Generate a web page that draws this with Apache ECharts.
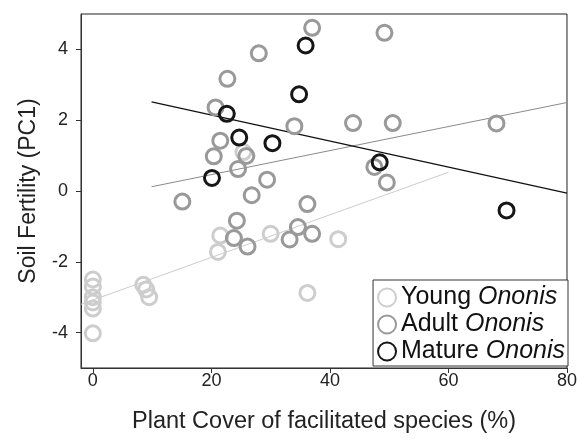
<!DOCTYPE html>
<html>
<head>
<meta charset="utf-8">
<script src="https://cdn.jsdelivr.net/npm/echarts@6/dist/echarts.min.js"></script>
<style>
html,body{margin:0;padding:0;background:#fff;}
#c{width:580px;height:439px;}
</style>
</head>
<body>
<div id="c"></div>
<script>
// ---- data ----
const youngX = [0, 0, 0, 0, 0, 0, 8.5, 9.0, 9.5, 21.1, 21.5, 25.4, 30.0, 36.2, 41.4];
const youngY = [-2.5, -2.7, -3.0, -3.15, -3.32, -4.02, -2.65, -2.78, -3.0, -1.72, -1.26, 1.1, -1.21, -2.88, -1.36];

const adultX = [37.0, 49.2, 28.0, 22.7, 20.7, 34.0, 43.9, 50.6, 68.1, 21.5, 20.4, 25.9, 24.5, 29.4, 26.8, 36.2, 15.1, 47.5, 49.6, 24.3, 23.8, 26.1, 34.6, 33.2, 37.0];
const adultY = [4.61, 4.47, 3.89, 3.17, 2.36, 1.83, 1.92, 1.92, 1.91, 1.42, 0.98, 0.99, 0.62, 0.32, -0.12, -0.37, -0.30, 0.68, 0.24, -0.84, -1.33, -1.57, -1.02, -1.37, -1.21];

const matureX = [22.6, 35.9, 34.8, 24.7, 30.3, 20.1, 48.4, 69.8];
const matureY = [2.18, 4.11, 2.73, 1.51, 1.35, 0.37, 0.81, -0.55];

// fitted lines (end points)
const youngFitX = [-2, 60];
const youngFitY = [-3.2, 0.53];
const adultFitX = [9.9, 80];
const adultFitY = [0.12, 2.50];
const matureFitX = [9.9, 80];
const matureFitY = [2.52, -0.06];

const xTicks = [0, 20, 40, 60, 80];
const yTicks = [-4, -2, 0, 2, 4];

const seriesNames = ['Young', 'Adult', 'Mature'];
const genus = 'Ononis';

// ---- build ----
const zip = (a, b) => a.map((v, i) => [v, b[i]]);
const colors = ['#cdcdcd', '#999999', '#161616'];
const FONT = '"Liberation Sans", Arial, sans-serif';

const scatter = (name, xs, ys, col, z) => ({
  name: name,
  type: 'scatter',
  data: zip(xs, ys),
  symbol: 'circle',
  symbolSize: 15,
  z: z,
  itemStyle: { color: 'rgba(255,255,255,0)', borderColor: col, borderWidth: 3, opacity: 1 },
  emphasis: { disabled: true }
});
const fit = (xs, ys, col, w) => ({
  type: 'line',
  data: zip(xs, ys),
  symbol: 'none',
  silent: true,
  z: 1,
  lineStyle: { color: col, width: w },
  legendHoverLink: false
});

const chart = echarts.init(document.getElementById('c'), null, { renderer: 'canvas' });
chart.setOption({
  animation: false,
  backgroundColor: '#fff',
  textStyle: { fontFamily: FONT },
  grid: {
    left: 81, right: 9, top: 14, bottom: 70,
    show: true, borderColor: '#222', borderWidth: 1, backgroundColor: 'transparent'
  },
  xAxis: {
    type: 'value',
    min: -2, max: 80,
    name: 'Plant Cover of facilitated species (%)',
    nameLocation: 'middle',
    nameGap: 42,
    nameTextStyle: { fontSize: 23.5, color: '#222', fontFamily: FONT },
    axisLine: { show: true, onZero: false, lineStyle: { color: '#333', width: 1 } },
    axisTick: { show: true, inside: false, length: 5, customValues: xTicks, lineStyle: { color: '#333' } },
    axisLabel: { customValues: xTicks, fontSize: 18, color: '#222', margin: 4, fontFamily: FONT },
    splitLine: { show: false }
  },
  yAxis: {
    type: 'value',
    min: -5, max: 5,
    name: 'Soil Fertility (PC1)',
    nameLocation: 'middle',
    nameGap: 41,
    nameRotate: 90,
    nameTextStyle: { fontSize: 23, color: '#222', fontFamily: FONT },
    axisLine: { show: true, onZero: false, lineStyle: { color: '#333', width: 1 } },
    axisTick: { show: true, inside: false, length: 5, customValues: yTicks, lineStyle: { color: '#333' } },
    axisLabel: { customValues: yTicks, fontSize: 18, color: '#222', margin: 13, fontFamily: FONT },
    splitLine: { show: false }
  },
  legend: {
    orient: 'vertical',
    right: 12,
    bottom: 73,
    backgroundColor: '#fff',
    borderColor: '#333',
    borderWidth: 1,
    borderRadius: 0,
    padding: [5, 3, 2, 4],
    itemGap: 2,
    itemWidth: 18,
    itemHeight: 18,
    selectedMode: false,
    data: seriesNames.map(n => n + ' ' + genus),
    formatter: function (name) {
      const parts = name.split(' ');
      return '{a|' + parts[0] + ' }{b|' + parts.slice(1).join(' ') + '}';
    },
    textStyle: {
      fontFamily: FONT,
      rich: {
        a: { fontSize: 25, color: '#111', fontFamily: FONT },
        b: { fontSize: 25, color: '#111', fontStyle: 'italic', fontFamily: FONT }
      }
    }
  },
  series: [
    fit(youngFitX, youngFitY, '#cccccc', 1),
    fit(adultFitX, adultFitY, '#8a8a8a', 1),
    fit(matureFitX, matureFitY, '#111111', 1.2),
    scatter(seriesNames[0] + ' ' + genus, youngX, youngY, colors[0], 3),
    scatter(seriesNames[1] + ' ' + genus, adultX, adultY, colors[1], 4),
    scatter(seriesNames[2] + ' ' + genus, matureX, matureY, colors[2], 5)
  ]
});
</script>
</body>
</html>
